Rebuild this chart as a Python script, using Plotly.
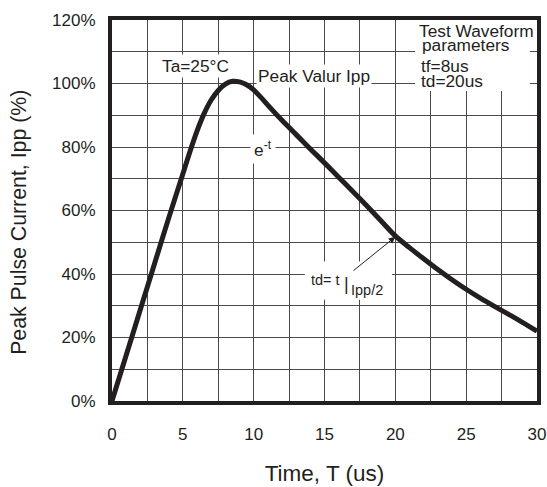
import plotly.graph_objects as go

# ---- data ----
time_us = [0, 1, 2, 3, 4, 5, 5.5, 6, 6.5, 7, 7.5, 8, 8.5, 9, 9.5, 10, 10.5,
           11, 12, 13, 14, 15, 16, 17, 18, 19, 20, 21, 22, 23, 24, 25, 26,
           27, 28, 29, 30]
current_pct = [0, 14.4, 28.8, 43.2, 57.6, 71.5, 78.5, 85, 90.5, 94.8, 97.8,
               99.8, 100.7, 100.5, 99.6, 98, 95.7, 93.2, 88.4, 83.9, 79.4,
               75, 70.5, 66, 61.4, 56.7, 52, 48.3, 44.8, 41.4, 38.2, 35.2,
               32.4, 29.8, 27.3, 24.7, 22]
x_ticks = [0, 5, 10, 15, 20, 25, 30]
y_ticks = [0, 20, 40, 60, 80, 100, 120]
y_tick_text = ["0%", "20%", "40%", "60%", "80%", "100%", "120%"]

INK = "#231f20"
GRID = "#4a4a4a"
FONT = "Liberation Sans, Arial, sans-serif"

fig = go.Figure()
fig.add_trace(go.Scatter(
    x=time_us, y=current_pct, mode="lines",
    line=dict(color=INK, width=5, shape="spline", smoothing=0.8),
    hoverinfo="skip", showlegend=False,
))

# white boxes that interrupt the grid
fig.add_shape(type="rect", xref="x", yref="y", x0=21.4, x1=29.5, y0=97.6, y1=120,
              fillcolor="white", line=dict(width=0), layer="between")
fig.add_shape(type="rect", xref="x", yref="y", x0=13.62, x1=19.76, y0=31.9, y1=43.9,
              fillcolor="white", line=dict(width=0), layer="between")

ann_font = dict(family=FONT, size=17.3, color=INK)
annotations = [
    dict(x=5.86, y=105.5, text="Ta=25°C", bgcolor="white", borderpad=1),
    dict(x=14.25, y=102.5, text="Peak Valur Ipp", bgcolor="white", borderpad=1),
    dict(x=10.63, y=79.5, text="e<sup>-t</sup>", bgcolor="white", borderpad=3),
]
for a in annotations:
    fig.add_annotation(xref="x", yref="y", showarrow=False, font=ann_font, **a)

box_lines = [
    (21.5, 116.4, "Test Waveform"),
    (21.75, 112.0, "parameters"),
    (21.7, 105.5, "tf=8us"),
    (21.7, 100.9, "td=20us"),
]
for x, y, t in box_lines:
    fig.add_annotation(xref="x", yref="y", x=x, y=y, text=t, showarrow=False,
                       xanchor="left", font=ann_font)

small_font = dict(family=FONT, size=14.5, color=INK)
fig.add_annotation(xref="x", yref="y", x=15.09, y=38.0, text="td= t",
                   showarrow=False, font=small_font)
fig.add_annotation(xref="x", yref="y", x=16.52, y=36.8, text="|",
                   showarrow=False, font=dict(family=FONT, size=18, color=INK))
fig.add_annotation(xref="x", yref="y", x=18.03, y=35.0, text="Ipp/2",
                   showarrow=False, font=small_font)
# arrow pointing to the half-value point
fig.add_annotation(xref="x", yref="y", axref="x", ayref="y",
                   x=20.0, y=51.7, ax=16.94, ay=40.7, text="",
                   showarrow=True, arrowhead=2, arrowsize=1.3, arrowwidth=1,
                   arrowcolor=INK, standoff=0)

# y-axis title (placed as rotated text, slightly below the plot centre as in the reference)
fig.add_annotation(xref="paper", yref="paper", x=-0.219, y=0.47,
                   text="Peak Pulse Current, Ipp (%)", textangle=-90,
                   showarrow=False, xanchor="center", yanchor="middle",
                   font=dict(family=FONT, size=21.3, color=INK))

axis_common = dict(
    showline=True, linewidth=4, linecolor=INK, mirror=True,
    showgrid=True, gridcolor=GRID, gridwidth=1,
    zeroline=False, ticks="", fixedrange=True,
    tickfont=dict(family=FONT, size=17, color=INK),
)

fig.update_xaxes(
    range=[0, 30], tickvals=x_ticks,
    minor=dict(dtick=2.5, showgrid=True, gridcolor=GRID, gridwidth=1),
    ticklabelstandoff=15,
    title=dict(text="Time, T (us)", font=dict(family=FONT, size=22.5, color=INK),
               standoff=23),
    **axis_common,
)
fig.update_yaxes(
    range=[0, 120], tickvals=y_ticks, ticktext=y_tick_text,
    minor=dict(dtick=10, showgrid=True, gridcolor=GRID, gridwidth=1),
    ticklabelstandoff=9,
    **axis_common,
)

fig.update_layout(
    width=547, height=487,
    margin=dict(l=112, r=10, t=20, b=86, autoexpand=False),
    paper_bgcolor="white", plot_bgcolor="white",
    font=dict(family=FONT, color=INK),
    showlegend=False,
)

# remove the browser's default 8px body margin so the figure fills the window exactly
fig.write_html("out.html", config={"displayModeBar": False},
               post_script="document.body.style.margin='0';")
